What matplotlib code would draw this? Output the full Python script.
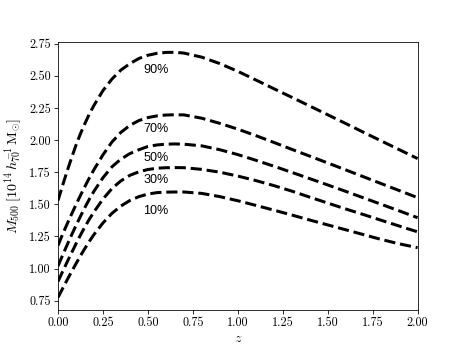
import matplotlib
matplotlib.use("Agg")
import matplotlib.pyplot as plt

plt.rcParams['font.family'] = 'serif'
plt.rcParams['font.serif'] = ['cmr10']
plt.rcParams['mathtext.fontset'] = 'cm'
plt.rcParams['axes.formatter.use_mathtext'] = True

z = [0.0, 0.025, 0.05, 0.075, 0.1, 0.125, 0.15, 0.175, 0.2,
     0.25, 0.3, 0.35, 0.4, 0.45, 0.5, 0.55, 0.6, 0.65, 0.7,
     0.8, 0.9, 1.0, 1.1, 1.2, 1.3, 1.4, 1.5, 1.6, 1.7, 1.8, 1.9, 2.0]

m90 = [1.530, 1.645, 1.755, 1.860, 1.960, 2.050, 2.130, 2.205, 2.270,
       2.385, 2.475, 2.545, 2.595, 2.635, 2.660, 2.675, 2.682, 2.683, 2.677,
       2.645, 2.595, 2.535, 2.468, 2.400, 2.333, 2.265, 2.197, 2.129, 2.060, 1.992, 1.924, 1.856]
m70 = [1.180, 1.265, 1.345, 1.422, 1.497, 1.570, 1.640, 1.707, 1.770,
       1.885, 1.985, 2.060, 2.115, 2.152, 2.175, 2.188, 2.195, 2.197, 2.196,
       2.170, 2.130, 2.085, 2.035, 1.982, 1.928, 1.875, 1.822, 1.768, 1.714, 1.660, 1.606, 1.552]
m50 = [1.020, 1.102, 1.182, 1.260, 1.335, 1.407, 1.477, 1.542, 1.602,
       1.707, 1.792, 1.852, 1.895, 1.925, 1.950, 1.962, 1.968, 1.970, 1.968,
       1.955, 1.925, 1.887, 1.843, 1.797, 1.749, 1.700, 1.651, 1.601, 1.550, 1.499, 1.448, 1.396]
m30 = [0.900, 0.975, 1.049, 1.121, 1.193, 1.261, 1.326, 1.386, 1.441,
       1.541, 1.623, 1.683, 1.726, 1.753, 1.771, 1.781, 1.785, 1.786, 1.785,
       1.772, 1.750, 1.720, 1.685, 1.646, 1.603, 1.556, 1.510, 1.464, 1.420, 1.375, 1.330, 1.286]
m10 = [0.776, 0.843, 0.910, 0.975, 1.038, 1.100, 1.158, 1.213, 1.265,
       1.355, 1.430, 1.487, 1.530, 1.560, 1.580, 1.591, 1.595, 1.596, 1.596,
       1.585, 1.560, 1.528, 1.492, 1.455, 1.417, 1.378, 1.340, 1.302, 1.264, 1.226, 1.192, 1.163]

series = [m90, m70, m50, m30, m10]
labels = ['90%', '70%', '50%', '30%', '10%']
label_z = [0.474, 0.474, 0.474, 0.474, 0.474]
label_m = [2.548, 2.086, 1.861, 1.691, 1.45]

fig, ax = plt.subplots(figsize=(6.4, 4.8), dpi=72.5)
for m in series:
    ax.plot(z, m, color='black', lw=3, ls='--')
for lab, lz, lm in zip(labels, label_z, label_m):
    ax.text(lz, lm, lab, family=['Liberation Sans', 'DejaVu Sans'], fontsize=12.5,
            ha='left', va='center')

ax.set_xlim(0, 2.0)
ax.set_ylim(0.68, 2.765)
ax.set_xticks([0.0, 0.25, 0.5, 0.75, 1.0, 1.25, 1.5, 1.75, 2.0])
ax.set_yticks([0.75, 1.0, 1.25, 1.5, 1.75, 2.0, 2.25, 2.5, 2.75])
ax.set_xticklabels(['0.00', '0.25', '0.50', '0.75', '1.00', '1.25', '1.50', '1.75', '2.00'])
ax.set_yticklabels(['0.75', '1.00', '1.25', '1.50', '1.75', '2.00', '2.25', '2.50', '2.75'])
ax.tick_params(labelsize=12)
ax.set_xlabel(r'$z$', fontsize=14)
ax.set_ylabel(r'$M_{500}\;[10^{14}\,h_{70}^{-1}\,\mathrm{M}_{\odot}]$', fontsize=14)

fig.savefig('out.png', dpi=72.5)
